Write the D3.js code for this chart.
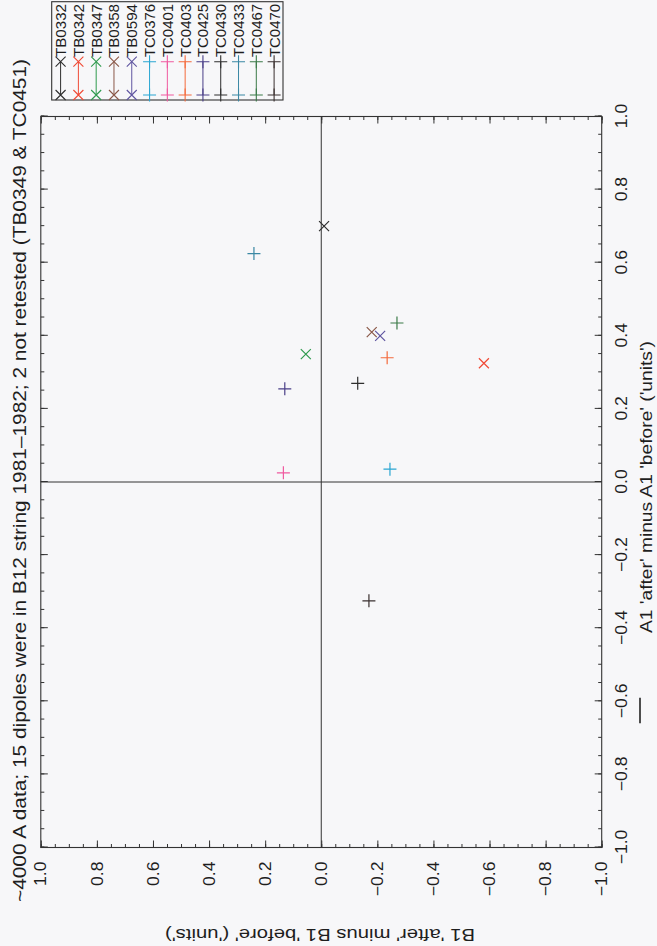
<html>
<head>
<meta charset="utf-8">
<script src="https://d3js.org/d3.v7.min.js"></script>
<style>
  body{margin:0;background:#f7f7f9;}
  svg{display:block;}
  text{font-family:"Liberation Sans",Arial,sans-serif;fill:#1e1e1e;}
</style>
</head>
<body>
<script>
// dipole names, marker style, colour and the two differences
const dipoles = ['TB0332','TB0342','TB0347','TB0358','TB0594','TC0376','TC0401','TC0403','TC0425','TC0430','TC0433','TC0467','TC0470'];
const markers = ['x','x','x','x','x','+','+','+','+','+','+','+','+'];
const colors  = ['#2e2e2e','#f04a36','#2f9a4e','#8a5848','#5f55a0','#2aa6d2','#f05aa0','#f46a3c','#4a3f88','#2e2e2e','#3a88a4','#3b7a48','#3a3030'];
const a1Diff  = [0.70, 0.325, 0.35, 0.41, 0.40, 0.035, 0.025, 0.34, 0.255, 0.27, 0.625, 0.435, -0.325];
const b1Diff  = [-0.01, -0.58, 0.055, -0.18, -0.21, -0.245, 0.135, -0.235, 0.13, -0.13, 0.24, -0.27, -0.17];
const majorTicks = [-1.0,-0.8,-0.6,-0.4,-0.2,0.0,0.2,0.4,0.6,0.8,1.0];
const minorTicks = d3.range(-20,21).map(d=>d/20);

const title = "~4000 A data; 15 dipoles were in B12 string 1981\u20131982; 2 not retested (TB0349 & TC0451)";
const xLabel = "A1 'after' minus A1 'before' ('units')";
const yLabel = "B1 'after' minus B1 'before' ('units')";

// page is a landscape plot turned a quarter turn anticlockwise
const W = 946, H = 657;
const sx = 1.1; // scanned text looks stretched along its baseline

const svg = d3.select('body').append('svg')
    .attr('width', H).attr('height', W);

const g = svg.append('g')
    .attr('transform', `translate(0,${W}) rotate(-90)`);

const x = d3.scaleLinear().domain([-1,1]).range([98.5, 829.5]);
const y = d3.scaleLinear().domain([-1,1]).range([601.7, 40.8]);

const fmt = d3.format('.1f');

// frame + zero lines
g.append('rect')
    .attr('x', x(-1)).attr('y', y(1))
    .attr('width', x(1)-x(-1)).attr('height', y(-1)-y(1))
    .attr('fill','none').attr('stroke','#333').attr('stroke-width',1.1);

g.append('line')
    .attr('x1', x(0)).attr('x2', x(0)).attr('y1', y(1)).attr('y2', y(-1))
    .attr('stroke','#333').attr('stroke-width',1);
g.append('line')
    .attr('x1', x(-1)).attr('x2', x(1)).attr('y1', y(0)).attr('y2', y(0))
    .attr('stroke','#333').attr('stroke-width',1);

// ticks on all four sides, pointing inward
function ticks(axis, tr){
    const a = g.append('g').attr('transform', tr).call(axis);
    a.select('.domain').remove();
    a.selectAll('line').attr('stroke','#333');
    return a;
}
ticks(d3.axisBottom(x).tickValues(minorTicks).tickSize(-3.5).tickFormat(''), `translate(0,${y(-1)})`);
ticks(d3.axisTop(x).tickValues(minorTicks).tickSize(-3.5).tickFormat(''), `translate(0,${y(1)})`);
ticks(d3.axisLeft(y).tickValues(minorTicks).tickSize(-3.5).tickFormat(''), `translate(${x(-1)},0)`);
ticks(d3.axisRight(y).tickValues(minorTicks).tickSize(-3.5).tickFormat(''), `translate(${x(1)},0)`);
ticks(d3.axisTop(x).tickValues(majorTicks).tickSize(-7).tickFormat(''), `translate(0,${y(1)})`);
ticks(d3.axisRight(y).tickValues(majorTicks).tickSize(-7).tickFormat(''), `translate(${x(1)},0)`);

const xa = ticks(d3.axisBottom(x).tickValues(majorTicks).tickSize(-7).tickPadding(14).tickFormat(fmt), `translate(0,${y(-1)})`);
xa.selectAll('text')
    .style('font-size','16px')
    .attr('transform', `scale(${sx},1)`);

const ya = ticks(d3.axisLeft(y).tickValues(majorTicks).tickSize(-7).tickPadding(14).tickFormat(fmt), `translate(${x(-1)},0)`);
ya.selectAll('text')
    .style('font-size','16px')
    .attr('x', -14/sx)
    .attr('transform', `scale(${sx},1)`);

// title and axis titles
g.append('text')
    .attr('x', 465.5).attr('y', 26)
    .attr('text-anchor','middle')
    .style('font-size','19px')
    .attr('textLength', 843).attr('lengthAdjust','spacingAndGlyphs')
    .text(title);

g.append('text')
    .attr('x', 459).attr('y', 652)
    .attr('text-anchor','middle')
    .style('font-size','17px')
    .attr('textLength', 292).attr('lengthAdjust','spacingAndGlyphs')
    .text(xLabel);

g.append('text')
    .attr('transform', `translate(17,${320}) rotate(-90)`)
    .attr('text-anchor','middle')
    .style('font-size','17px')
    .attr('textLength', 310).attr('lengthAdjust','spacingAndGlyphs')
    .text(yLabel);

// stray pen mark under the axis
g.append('line')
    .attr('x1', x(-0.66)).attr('x2', x(-0.59)).attr('y1', 640).attr('y2', 640)
    .attr('stroke','#222').attr('stroke-width',1.6);

// markers
function markerPath(type, cx, cy){
    if (type === 'x'){
        const s = 5;
        return `M${cx-s},${cy-s}L${cx+s},${cy+s}M${cx-s},${cy+s}L${cx+s},${cy-s}`;
    }
    const s = 6.5;
    return `M${cx-s},${cy}L${cx+s},${cy}M${cx},${cy-s}L${cx},${cy+s}`;
}

g.append('g').selectAll('path')
    .data(dipoles)
    .enter()
    .append('path')
    .attr('d', (d,i)=>markerPath(markers[i], x(a1Diff[i]), y(b1Diff[i])))
    .attr('fill','none')
    .attr('stroke', (d,i)=>colors[i])
    .attr('stroke-width',1.2);

// legend, in the lower right corner of the landscape page
const legX0 = 846, legX1 = 944.3, legY0 = 51.7, legY1 = 283;
const row = d3.scaleBand().domain(dipoles).range([legY0, legY1]);

g.append('rect')
    .attr('x', legX0).attr('y', legY0)
    .attr('width', legX1-legX0).attr('height', legY1-legY0)
    .attr('fill','none').attr('stroke','#333').attr('stroke-width',1.1);

const leg = g.append('g').selectAll('g')
    .data(dipoles)
    .enter()
    .append('g')
    .attr('transform', d=>`translate(0,${row(d)+row.bandwidth()/2})`);

leg.append('line')
    .attr('x1', 851).attr('x2', 884.3).attr('y1',0).attr('y2',0)
    .attr('stroke', (d,i)=>colors[i]).attr('stroke-width',1);

leg.append('path')
    .attr('d', (d,i)=>markerPath(markers[i], 851, 0) + markerPath(markers[i], 884.3, 0))
    .attr('fill','none')
    .attr('stroke', (d,i)=>colors[i]).attr('stroke-width',1.1);

leg.append('text')
    .attr('x', 889).attr('y', 5.5)
    .style('font-size','15px')
    .attr('textLength', 53).attr('lengthAdjust','spacingAndGlyphs')
    .text(d=>d);
</script>
</body>
</html>
